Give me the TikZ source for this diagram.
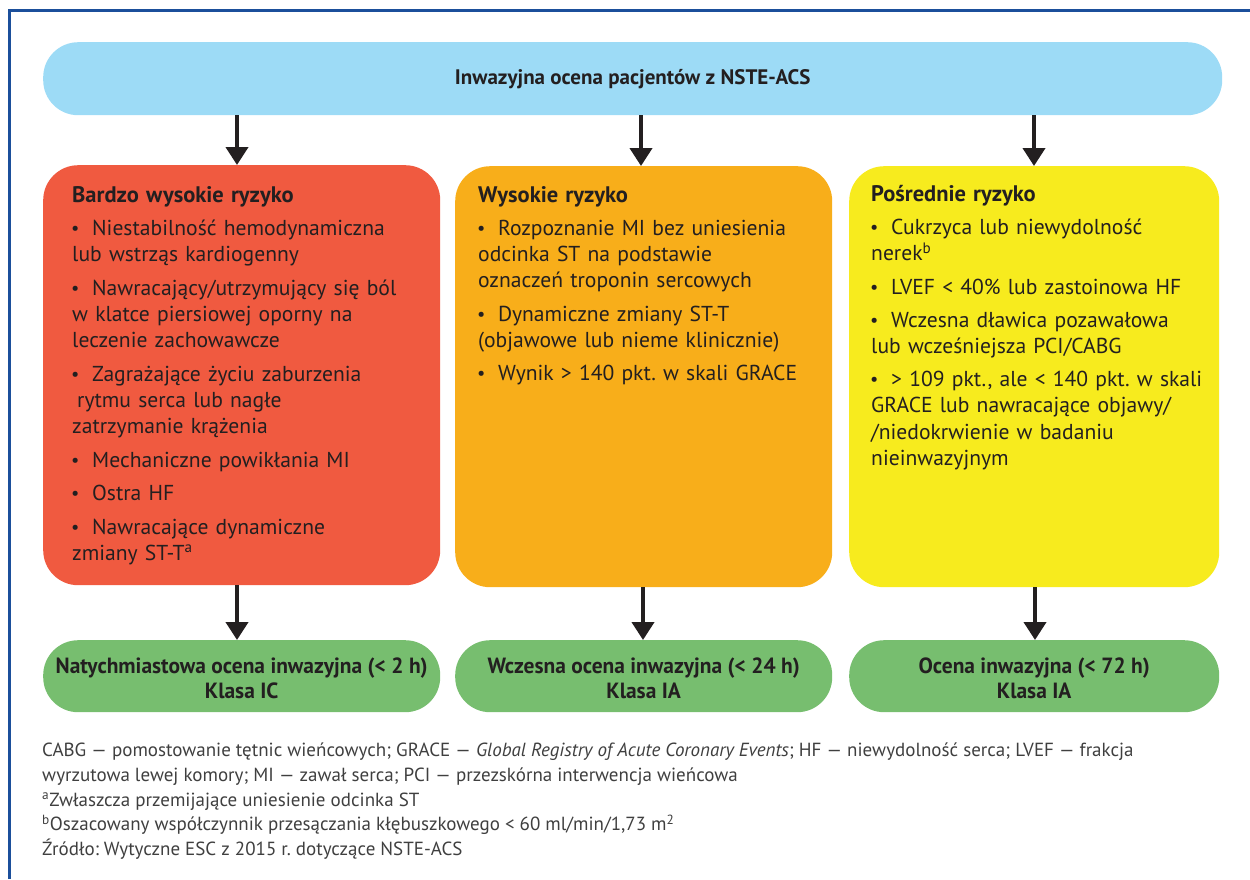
\documentclass[tikz,border=0pt]{standalone}
\usepackage{fontspec}
\setmainfont{PT Sans}
\newfontfamily\condf[FakeStretch=0.975]{PT Sans}
\newfontfamily\footf{PT Sans}
\usetikzlibrary{arrows.meta}
\definecolor{frameblue}{HTML}{1B4F9B}
\definecolor{topblue}{HTML}{9DDBF6}
\definecolor{riskred}{HTML}{F05A40}
\definecolor{riskorange}{HTML}{F8AE1A}
\definecolor{riskyellow}{HTML}{F7EB1E}
\definecolor{okgreen}{HTML}{77BE6F}
\definecolor{ink}{HTML}{231F20}
\definecolor{footgray}{HTML}{3F3F3F}
\frenchspacing
\newcommand\itm[1]{\par\hangindent=20pt\hangafter=1\noindent\makebox[20pt][l]{\hspace{-1pt}\raisebox{1pt}{\scalebox{0.85}{\textbullet}}}#1}
\newcommand\ttl[1]{{\fontsize{22.5}{26.3}\selectfont\bfseries #1}}
\newcommand\strutdown{\rule{0pt}{20pt}}
\begin{document}
\begin{tikzpicture}[x=1pt,y=-1pt,
  box/.style={rounded corners=35pt, inner sep=0pt, anchor=north west, fill=#1},
  pill/.style={rounded corners=35pt, inner sep=0pt, anchor=north west, fill=#1, align=center,
    font=\condf\bfseries\fontsize{22}{25}\selectfont, text=ink},
  listtext/.style={anchor=north west, inner sep=0pt, text width=360pt, text=ink,
    font=\fontsize{21.6}{26.2}\selectfont},
  arr/.style={line width=4pt, ink, -{Triangle[width=22pt,length=18pt]}},
  foot/.style={anchor=north west, inner sep=0pt, align=left, text=footgray,
    font=\footf\fontsize{19}{24.6}\selectfont}
]
\useasboundingbox (0,0) rectangle (1250,879);
% frame
\draw[frameblue, line width=3pt] (9,879) -- (9,10) -- (1250,10);

% top box
\node[pill=topblue, minimum width=1179pt, minimum height=73pt, font=\bfseries\fontsize{21}{24}\selectfont] (top) at (43,42) {Inwazyjna ocena pacjentów z NSTE-ACS};

% risk boxes
\node[box=riskred, minimum width=397pt, minimum height=420pt] (red) at (43,165) {};
\node[box=riskorange, minimum width=377pt, minimum height=421pt] (orange) at (455,166) {};
\node[box=riskyellow, minimum width=370pt, minimum height=421pt] (yellow) at (849,166) {};

% result boxes
\node[pill=okgreen, minimum width=397pt, minimum height=72pt] (gred) at (43,640) {\strutdown Natychmiastowa ocena inwazyjna (< 2 h)\\Klasa IC};
\node[pill=okgreen, minimum width=377pt, minimum height=72pt] (gorange) at (455,640) {\strutdown Wczesna ocena inwazyjna (< 24 h)\\Klasa IA};
\node[pill=okgreen, minimum width=370pt, minimum height=72pt] (gyellow) at (849,640) {\strutdown Ocena inwazyjna (< 72 h)\\Klasa IA};

% texts
\node[listtext] (tred) at (72,186) {\raggedright\parskip=7.3pt
\ttl{Bardzo wysokie ryzyko}
\itm{Niestabilność hemodynamiczna\\lub wstrząs kardiogenny}
\itm{Nawracający/utrzymujący się ból\\w klatce piersiowej oporny na\\leczenie zachowawcze}
\itm{Zagrażające życiu zaburzenia\\\hspace*{5pt}rytmu serca lub nagłe\\zatrzymanie krążenia}
\itm{Mechaniczne powikłania MI}
\itm{Ostra HF}
\itm{Nawracające dynamiczne\\zmiany ST-T\textsuperscript{a}}\par};

\node[listtext] (torange) at (478,186) {\raggedright\parskip=7pt
\ttl{Wysokie ryzyko}
\itm{Rozpoznanie MI bez uniesienia\\odcinka ST na podstawie\\oznaczeń troponin sercowych}
\itm{Dynamiczne zmiany ST-T\\(objawowe lub nieme klinicznie)}
\itm{Wynik > 140 pkt. w skali GRACE}\par};

\node[listtext] (tyellow) at (871,185) {\raggedright\parskip=7pt
\ttl{Pośrednie ryzyko}
\itm{Cukrzyca lub niewydolność\\nerek\textsuperscript{b}}
\itm{LVEF < 40\% lub zastoinowa HF}
\itm{Wczesna dławica pozawałowa\\lub wcześniejsza PCI/CABG}
\itm{> 109 pkt., ale < 140 pkt. w skali\\GRACE lub nawracające objawy/\\/niedokrwienie w badaniu\\nieinwazyjnym}\par};

% arrows
\draw[arr] (top.south -| 237,0) -- (red.north -| 237,0);
\draw[arr] (top.south -| 641,0) -- (orange.north -| 641,0);
\draw[arr] (top.south -| 1034,0) -- (yellow.north -| 1034,0);
\draw[arr] (red.south -| 237,0) -- (gred.north -| 237,0);
\draw[arr] (orange.south -| 643,0) -- (gorange.north -| 643,0);
\draw[arr] (yellow.south -| 1035,0) -- (gyellow.north -| 1035,0);

% footnote
\node[foot] (notes) at (42,743) {CABG — pomostowanie tętnic wieńcowych; GRACE — \textit{Global Registry of Acute Coronary Events}; HF — niewydolność serca; LVEF — frakcja\\
wyrzutowa lewej komory; MI — zawał serca; PCI — przezskórna interwencja wieńcowa\\
\textsuperscript{a}Zwłaszcza przemijające uniesienie odcinka ST\\
\textsuperscript{b}Oszacowany współczynnik przesączania kłębuszkowego < 60 ml/min/1,73 m\textsuperscript{2}\\
Źródło: Wytyczne ESC z 2015 r. dotyczące NSTE-ACS};
\end{tikzpicture}
\end{document}
